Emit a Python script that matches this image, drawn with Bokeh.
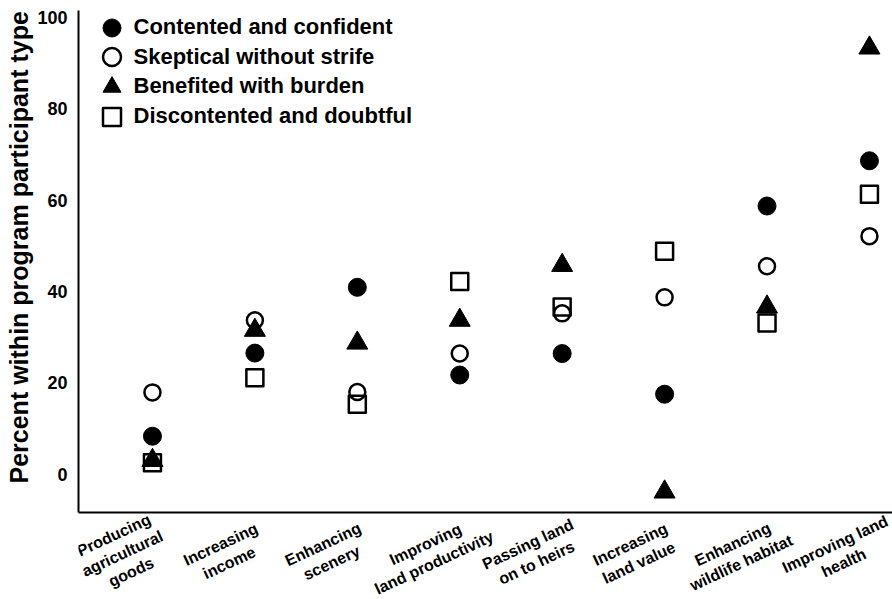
from bokeh.plotting import figure
from bokeh.models import FixedTicker, Range1d, Legend, LegendItem, Label, Span, Title
from bokeh.embed import file_html
from bokeh.resources import INLINE

categories = [
    "Producing\nagricultural\ngoods",
    "Increasing\nincome",
    "Enhancing\nscenery",
    "Improving\nland productivity",
    "Passing land\non to heirs",
    "Increasing\nland value",
    "Enhancing\nwildlife habitat",
    "Improving land\nhealth",
]
contented = [8.3, 26.5, 40.9, 21.7, 26.4, 17.5, 58.7, 68.6]
skeptical = [17.9, 33.7, 18.0, 26.4, 35.2, 38.7, 45.5, 52.1]
benefited = [3.0, 31.5, 28.7, 33.7, 45.7, -3.9, 36.6, 93.3]
discontented = [2.5, 21.1, 15.3, 42.2, 36.6, 48.8, 33.1, 61.3]
series_names = [
    "Contented and confident",
    "Skeptical without strife",
    "Benefited with burden",
    "Discontented and doubtful",
]
y_ticks = [0, 20, 40, 60, 80, 100]

FONT = "Liberation Sans"
x_idx = list(range(len(categories)))
Y0, Y1 = -8.4, 101.5            # extent of the drawn axes
W, H = 892, 599
LEFT = 78                        # frame left edge (px)
PX_PER_UNIT = 4.568              # vertical scale
TOP_PAD = 10                     # space above the y-axis end (px)
FRAME_H = H
y_hi = Y1 + TOP_PAD / PX_PER_UNIT
y_lo = y_hi - FRAME_H / PX_PER_UNIT

p = figure(width=W, height=H, output_backend="svg", toolbar_location=None,
           x_axis_location=None,
           x_range=Range1d(-0.722, 7.225), y_range=Range1d(y_lo, y_hi),
           min_border_left=LEFT, min_border_right=0, min_border_top=0, min_border_bottom=0)
p.outline_line_color = None
p.xgrid.grid_line_color = None
p.ygrid.grid_line_color = None

r1 = p.scatter(x_idx, contented, marker="circle", size=18, fill_color="black", line_color="black")
r2 = p.scatter(x_idx, skeptical, marker="circle", size=16, fill_color=None, line_color="black", line_width=2.5)
r3 = p.scatter(x_idx, benefited, marker="triangle", size=21, fill_color="black", line_color="black")
r4 = p.scatter(x_idx, discontented, marker="square", size=17, fill_color=None, line_color="black",
               line_width=2.5, line_join="round")

# y axis (line limited to the data area)
ya = p.yaxis[0]
ya.bounds = (Y0, Y1)
ya.axis_line_width = 2
ya.axis_line_color = "black"
ya.major_tick_line_color = None
ya.minor_tick_line_color = None
ya.major_tick_out = 0
ya.major_tick_in = 0
ya.ticker = FixedTicker(ticks=y_ticks)
ya.major_label_text_font = FONT
ya.major_label_text_font_style = "bold"
ya.major_label_text_font_size = "18px"
ya.major_label_text_color = "black"
ya.major_label_standoff = 11

p.add_layout(Title(text="Percent within program participant type", align="left", offset=116,
                   text_font=FONT, text_font_style="bold", text_font_size="25px",
                   text_color="black", standoff=4), "left")

# x axis line at the bottom of the data area
p.add_layout(Span(location=Y0, dimension="width", line_color="black", line_width=2))

# rotated category labels under the x axis line
for i, cat in zip(x_idx, categories):
    p.add_layout(Label(x=i, y=Y0, x_offset=-30, y_offset=-41, text=cat,
                       angle=25, angle_units="deg", text_align="center", text_baseline="middle",
                       text_font=FONT, text_font_style="bold", text_font_size="16px",
                       text_line_height=1.2, text_color="black"))

# one legend per row so the markers can be large while rows stay close together
GLYPH = 45
ROW_PITCH = 29.7
first_top = 4.5  # legend box top from the top of the frame (px)
for k, (name, r) in enumerate(zip(series_names, [r1, r2, r3, r4])):
    top = first_top + k * ROW_PITCH
    lg = Legend(items=[LegendItem(label=name, renderers=[r])],
                location=(10.5, FRAME_H - top - GLYPH))
    lg.border_line_color = None
    lg.background_fill_alpha = 0
    lg.padding = 0
    lg.margin = 0
    lg.glyph_width = GLYPH
    lg.glyph_height = GLYPH
    lg.label_height = GLYPH
    lg.label_standoff = 0
    lg.label_text_font = FONT
    lg.label_text_font_style = "bold"
    lg.label_text_font_size = "22px"
    lg.label_text_color = "black"
    p.add_layout(lg)

open("out.html", "w").write(file_html(p, INLINE))
